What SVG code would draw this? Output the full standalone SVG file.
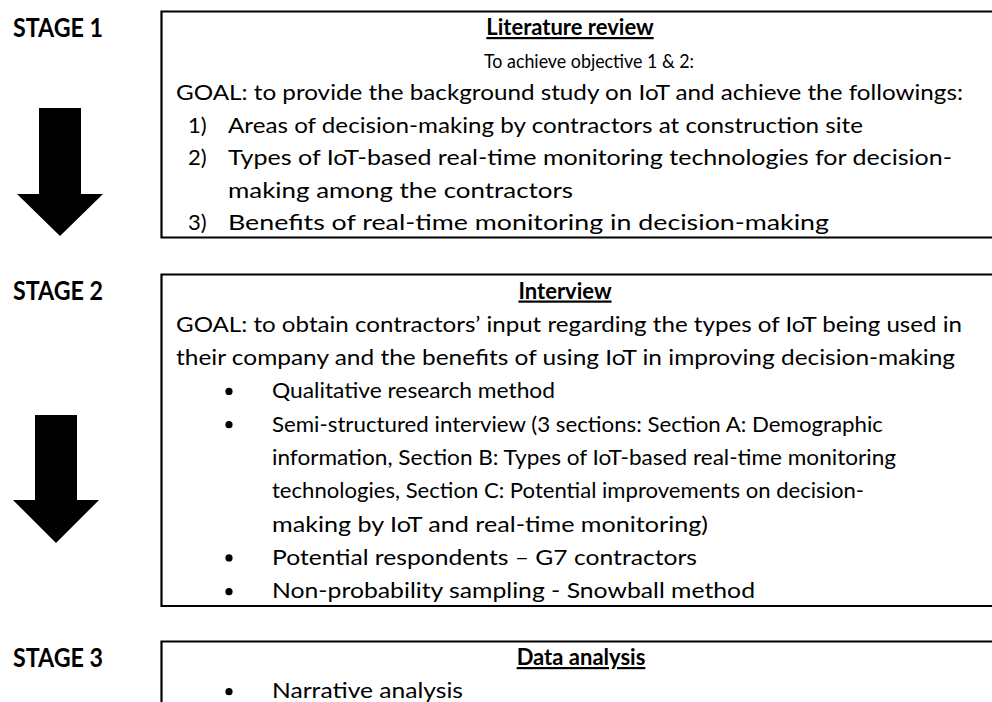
<svg xmlns="http://www.w3.org/2000/svg" width="992" height="702" viewBox="0 0 992 702">
<style>
  text { font-family: Lato, "Open Sans", "Liberation Sans", sans-serif; fill: #000; }
  .stage { font-size: 26px; font-weight: bold; }
  .head { font-size: 22px; font-weight: bold; text-decoration: underline; }
  .body { font-size: 22px; }
  .small { font-size: 20px; }
  .box { fill: none; stroke: #000; stroke-width: 2.2; }
  .arrow { fill: #000; }
</style>
<rect width="992" height="702" fill="#fff"/>

<g id="stage1">
  <text class="stage" x="13" y="37" textLength="90" lengthAdjust="spacingAndGlyphs">STAGE 1</text>
  <path class="box" d="M992 11.5 H161.5 V237.5 H992"/>
  <text class="head" x="570" y="35" text-anchor="middle">Literature review</text>
  <text class="small" x="484" y="67.5" textLength="210" lengthAdjust="spacingAndGlyphs">To achieve objective 1 &amp; 2:</text>
  <text class="body" x="176" y="100" textLength="787" lengthAdjust="spacingAndGlyphs">GOAL: to provide the background study on IoT and achieve the followings:</text>
  <text class="body" x="188" y="132.5">1)</text>
  <text class="body" x="228" y="132.5" textLength="635" lengthAdjust="spacingAndGlyphs">Areas of decision-making by contractors at construction site</text>
  <text class="body" x="188" y="165">2)</text>
  <text class="body" x="228" y="165" textLength="724" lengthAdjust="spacingAndGlyphs">Types of IoT-based real-time monitoring technologies for decision-</text>
  <text class="body" x="228" y="197.5" textLength="345" lengthAdjust="spacingAndGlyphs">making among the contractors</text>
  <text class="body" x="188" y="230">3)</text>
  <text class="body" x="228" y="230" textLength="601" lengthAdjust="spacingAndGlyphs">Benefits of real-time monitoring in decision-making</text>
</g>

<g id="stage2">
  <text class="stage" x="13" y="300" textLength="90" lengthAdjust="spacingAndGlyphs">STAGE 2</text>
  <path class="box" d="M992 274.5 H161.5 V606 H992"/>
  <text class="head" x="565" y="298.5" text-anchor="middle">Interview</text>
  <text class="body" x="176" y="331.8" textLength="786" lengthAdjust="spacingAndGlyphs">GOAL: to obtain contractors’ input regarding the types of IoT being used in</text>
  <text class="body" x="176" y="365.1" textLength="779" lengthAdjust="spacingAndGlyphs">their company and the benefits of using IoT in improving decision-making</text>
  <circle cx="229" cy="391.4" r="3.6"/>
  <text class="body" x="272" y="398.4" textLength="283" lengthAdjust="spacingAndGlyphs">Qualitative research method</text>
  <circle cx="229" cy="424.7" r="3.6"/>
  <text class="body" x="272" y="431.7" textLength="611" lengthAdjust="spacingAndGlyphs">Semi-structured interview (3 sections: Section A: Demographic</text>
  <text class="body" x="272" y="465" textLength="624" lengthAdjust="spacingAndGlyphs">information, Section B: Types of IoT-based real-time monitoring</text>
  <text class="body" x="272" y="498.3" textLength="592" lengthAdjust="spacingAndGlyphs">technologies, Section C: Potential improvements on decision-</text>
  <text class="body" x="272" y="531.6" textLength="436" lengthAdjust="spacingAndGlyphs">making by IoT and real-time monitoring)</text>
  <circle cx="229" cy="557.9" r="3.6"/>
  <text class="body" x="272" y="564.9" textLength="425" lengthAdjust="spacingAndGlyphs">Potential respondents – G7 contractors</text>
  <circle cx="229" cy="591.7" r="3.6"/>
  <text class="body" x="272" y="598.2" textLength="483" lengthAdjust="spacingAndGlyphs">Non-probability sampling - Snowball method</text>
</g>

<g id="stage3">
  <text class="stage" x="13" y="667" textLength="90" lengthAdjust="spacingAndGlyphs">STAGE 3</text>
  <path class="box" d="M992 641.5 H161.5 V702"/>
  <text class="head" x="581" y="665" text-anchor="middle">Data analysis</text>
  <circle cx="229" cy="691.7" r="3.6"/>
  <text class="body" x="272" y="698" textLength="191" lengthAdjust="spacingAndGlyphs">Narrative analysis</text>
</g>

<g id="connectors">
  <polygon class="arrow" points="39,108 81,108 81,194 103,194 60,236 17,194 39,194"/>
  <polygon class="arrow" points="35,415 77,415 77,500 99,500 56,543 13,500 35,500"/>
</g>
</svg>
